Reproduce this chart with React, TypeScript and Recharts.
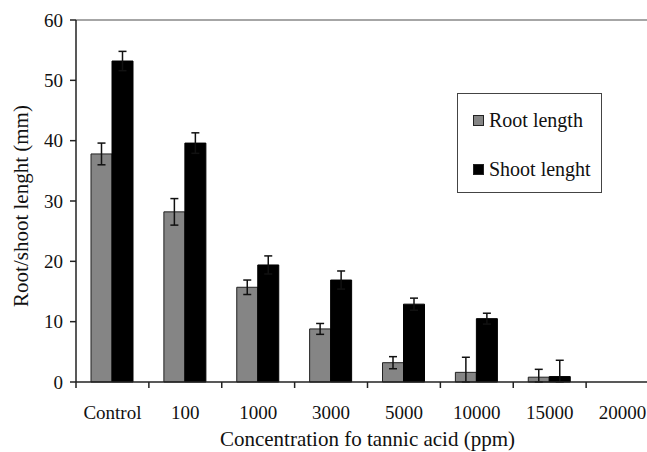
import React from "react";
import { BarChart, Bar, XAxis, YAxis, ErrorBar, ReferenceLine } from "recharts";

const categories = ["Control", "100", "1000", "3000", "5000", "10000", "15000", "20000"];
const rootLength = [37.8, 28.2, 15.7, 8.8, 3.2, 1.6, 0.8, 0];
const rootError: (number | [number, number])[] = [1.8, 2.2, 1.2, 0.9, 1.0, [1.6, 2.5], [0.8, 1.3], 0];
const shootLength = [53.2, 39.6, 19.4, 16.9, 12.9, 10.5, 0.9, 0];
const shootError: (number | [number, number])[] = [1.6, 1.7, 1.5, 1.5, 1.0, 0.9, [0.9, 2.7], 0];
const yTicks = [0, 10, 20, 30, 40, 50, 60];
const seriesNames = ["Root length", "Shoot lenght"];

const data = categories.map((c, i) => ({
  cat: c,
  root: rootLength[i],
  rootErr: rootError[i],
  shoot: shootLength[i],
  shootErr: shootError[i],
}));

const W = 680;
const H = 452;
const M = { top: 20, right: 21, left: 0, bottom: 0 };
const Y_W = 76;
const X_H = 70;
const PLOT_W = W - M.left - M.right - Y_W;
const PLOT_BOTTOM = H - M.bottom - X_H;
const BAND = PLOT_W / categories.length;
const FONT = '"Liberation Serif", "Times New Roman", serif';
const ROOT = "#858585";
const textStyle = { fontFamily: FONT, fontSize: 19, fill: "#111" };
const titleStyle = { fontFamily: FONT, fontSize: 21, fill: "#111" };

function XTick(props: any) {
  const { x, payload } = props;
  const tx = x - BAND / 2;
  return (
    <g>
      <line x1={tx} x2={tx} y1={PLOT_BOTTOM} y2={PLOT_BOTTOM + 6} stroke="#222" strokeWidth={1.5} />
      <text x={x} y={PLOT_BOTTOM + 37} textAnchor="middle" style={textStyle}>
        {payload.value}
      </text>
    </g>
  );
}

function YTitle(props: any) {
  const vb = props.viewBox;
  const cx = vb.x + 21;
  const cy = vb.y + vb.height / 2 + 5;
  return (
    <text
      x={cx}
      y={cy}
      transform={`rotate(-90 ${cx} ${cy})`}
      textAnchor="middle"
      dominantBaseline="central"
      style={titleStyle}
    >
      Root/shoot lenght (mm)
    </text>
  );
}

function LegendBox() {
  const row = (color: string, label: string, top: number) => (
    <div style={{ position: "absolute", left: 15, top, display: "flex", alignItems: "center" }}>
      <span style={{ width: 9, height: 9, background: color, border: "1px solid #222", marginRight: 5 }} />
      <span style={{ fontSize: 20, fontFamily: FONT, color: "#111", lineHeight: "22px" }}>{label}</span>
    </div>
  );
  return (
    <div
      style={{
        position: "absolute",
        left: 457,
        top: 93,
        width: 143,
        height: 98,
        border: "1.5px solid #444",
        background: "#fff",
      }}
    >
      {row(ROOT, seriesNames[0], 15)}
      {row("#000", seriesNames[1], 64)}
    </div>
  );
}

export default function App() {
  return (
    <div style={{ position: "fixed", left: 0, top: 0, width: 647, height: 452, overflow: "hidden", background: "#fff" }}>
      <BarChart width={W} height={H} data={data} margin={M} barGap={0} barSize={21}>
        <ReferenceLine y={60} stroke="#888" strokeWidth={1.5} />
        <XAxis
          dataKey="cat"
          height={X_H}
          tickLine={false}
          axisLine={{ stroke: "#222", strokeWidth: 1.5 }}
          tick={<XTick />}
          interval={0}
          label={{
            value: "Concentration fo tannic acid (ppm)",
            position: "insideBottom",
            offset: 6,
            style: titleStyle,
          }}
        />
        <YAxis
          width={Y_W}
          domain={[0, 60]}
          ticks={yTicks}
          interval={0}
          tickSize={6}
          tickMargin={7}
          tickLine={{ stroke: "#222", strokeWidth: 1.5 }}
          axisLine={{ stroke: "#222", strokeWidth: 1.5 }}
          tick={textStyle}
          label={<YTitle />}
        />
        <Bar dataKey="root" name={seriesNames[0]} fill={ROOT} stroke="#222" strokeWidth={1} isAnimationActive={false}>
          <ErrorBar dataKey="rootErr" width={4} stroke="#111" strokeWidth={1.5} direction="y" />
        </Bar>
        <Bar dataKey="shoot" name={seriesNames[1]} fill="#000" stroke="#000" strokeWidth={1} isAnimationActive={false}>
          <ErrorBar dataKey="shootErr" width={4} stroke="#111" strokeWidth={1.5} direction="y" />
        </Bar>
      </BarChart>
      <LegendBox />
    </div>
  );
}
